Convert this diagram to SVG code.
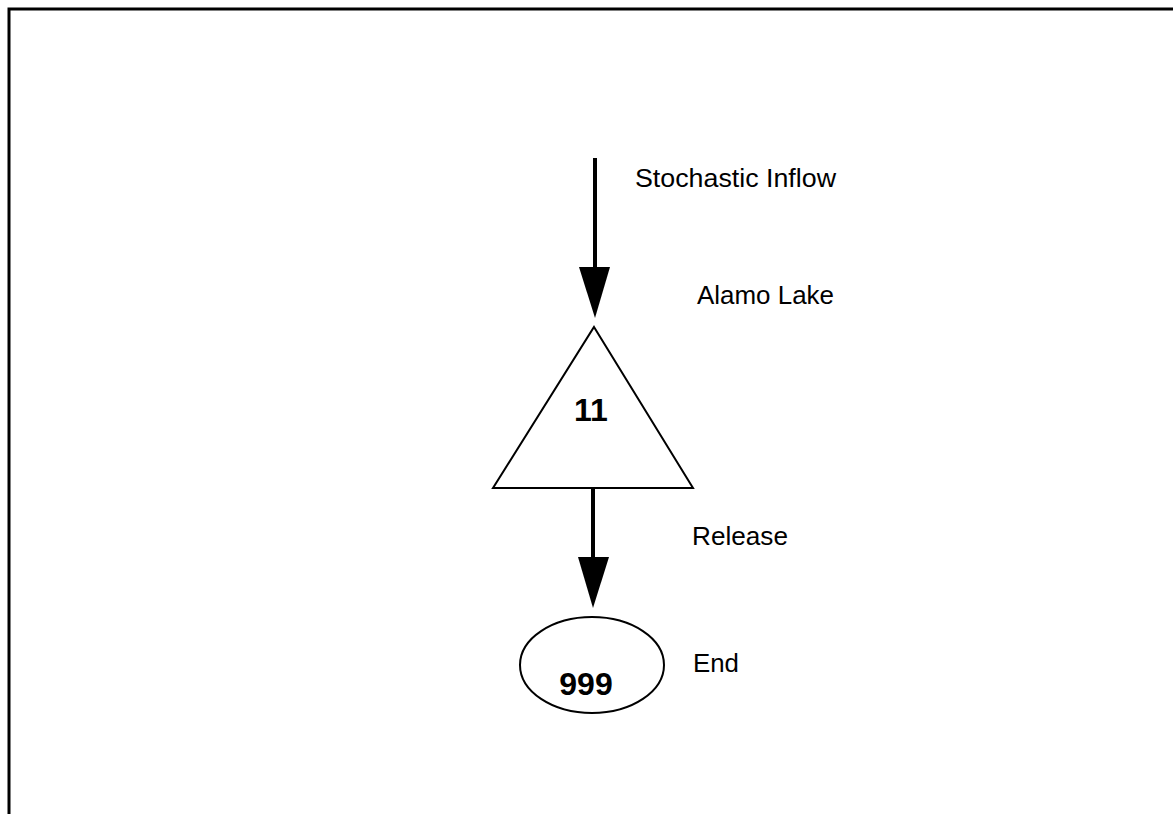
<svg xmlns="http://www.w3.org/2000/svg" width="1173" height="814" viewBox="0 0 1173 814">
<style>
.lbl{font-family:"Liberation Sans",Arial,sans-serif;font-size:26px;fill:#000}
.num{font-family:"Liberation Sans",Arial,sans-serif;font-size:32px;font-weight:bold;fill:#000;text-anchor:middle}
.shape{fill:#fff;stroke:#000;stroke-width:2}
.conn{stroke:#000;stroke-width:4;fill:none}
.head{fill:#000}
</style>
<rect width="1173" height="814" fill="#fff"/>
<g id="frame">
<path d="M9,814 V9 H1173" fill="none" stroke="#000" stroke-width="3"/>
</g>
<g id="connectors">
<line class="conn" x1="595" y1="158" x2="595" y2="270"/>
<polygon class="head" points="579,267 610,267 595,318"/>
<line class="conn" x1="593" y1="488" x2="593" y2="560"/>
<polygon class="head" points="578,557 609,557 593,608"/>
</g>
<g id="node-inflow-label">
<text class="lbl" x="635" y="187" textLength="201" lengthAdjust="spacingAndGlyphs">Stochastic Inflow</text>
</g>
<g id="node-11">
<polygon class="shape" points="594,327 693,488 493,488"/>
<text class="num" x="591" y="421">11</text>
<text class="lbl" x="697" y="304" textLength="137" lengthAdjust="spacingAndGlyphs">Alamo Lake</text>
</g>
<g id="node-release-label">
<text class="lbl" x="692" y="545" textLength="96" lengthAdjust="spacingAndGlyphs">Release</text>
</g>
<g id="node-999">
<ellipse class="shape" cx="592" cy="665" rx="72" ry="48"/>
<text class="num" x="586" y="695">999</text>
<text class="lbl" x="693" y="672" textLength="46" lengthAdjust="spacingAndGlyphs">End</text>
</g>
</svg>
